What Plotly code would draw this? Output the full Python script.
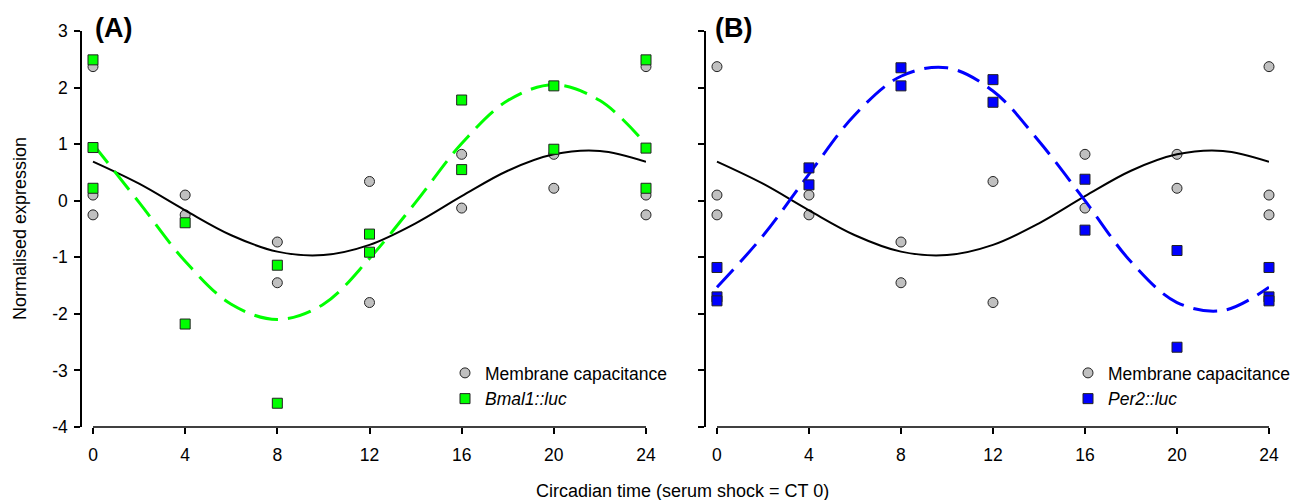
import plotly.graph_objects as go

# ---------------- data ----------------
X_TICKS = [0, 4, 8, 12, 16, 20, 24]
Y_TICKS = [-4, -3, -2, -1, 0, 1, 2, 3]

# Membrane capacitance (same in both panels)
cap_x = [0, 0, 0, 4, 4, 8, 8, 12, 12, 16, 16, 20, 20, 24, 24, 24]
cap_y = [2.37, 0.10, -0.25, 0.10, -0.25, -0.73, -1.45, 0.34, -1.80,
         0.82, -0.13, 0.82, 0.22, 2.37, 0.10, -0.25]

# Bmal1::luc
bmal_x = [0, 0, 0, 4, 4, 8, 8, 12, 12, 16, 16, 20, 20, 24, 24, 24]
bmal_y = [2.49, 0.94, 0.22, -0.39, -2.18, -1.14, -3.58, -0.59, -0.91,
          1.78, 0.55, 2.03, 0.91, 2.49, 0.93, 0.22]

# Per2::luc
per_x = [0, 0, 0, 4, 4, 8, 8, 12, 12, 16, 16, 20, 20, 24, 24, 24]
per_y = [-1.18, -1.70, -1.77, 0.58, 0.28, 2.35, 2.03, 2.14, 1.74,
         0.38, -0.52, -0.88, -2.59, -1.18, -1.70, -1.77]

# fitted curves, every 2 h
fit_x = [0, 2, 4, 6, 8, 10, 12, 14, 16, 18, 20, 22, 24]
cap_fit = [0.69, 0.30, -0.17, -0.61, -0.90, -0.96, -0.78, -0.40, 0.08, 0.53, 0.82, 0.88, 0.69]
bmal_fit = [1.00, -0.03, -1.07, -1.83, -2.10, -1.83, -1.02, -0.03, 1.01, 1.77, 2.05, 1.77, 1.00]
per_fit = [-1.53, -0.62, 0.47, 1.52, 2.20, 2.35, 1.94, 1.05, 0.00, -1.08, -1.80, -1.94, -1.53]

# ---------------- styling ----------------
W, H = 1293, 500
FONT = "Arial, Liberation Sans, sans-serif"
GREY = "#c0c0c0"
GREEN = "#00ff00"
BLUE = "#0000ff"
EDGE = "#222222"
TICK_SIZE = 17.5
TEXT_SIZE = 18
LEG_SIZE = 17.5

fig = go.Figure()

def add_panel(xa, ya, legend, lum_x, lum_y, lum_fit, colour, lum_name):
    fig.add_trace(go.Scatter(x=cap_x, y=cap_y, mode="markers", name="Membrane capacitance",
                             xaxis=xa, yaxis=ya, legend=legend, cliponaxis=False,
                             marker=dict(symbol="circle", size=10, color=GREY,
                                         line=dict(color=EDGE, width=1))))
    fig.add_trace(go.Scatter(x=fit_x, y=cap_fit, mode="lines", showlegend=False,
                             xaxis=xa, yaxis=ya, line=dict(color="black", width=2, shape="spline")))
    fig.add_trace(go.Scatter(x=fit_x, y=lum_fit, mode="lines", showlegend=False,
                             xaxis=xa, yaxis=ya,
                             line=dict(color=colour, width=3, shape="spline", dash="24px,10px")))
    fig.add_trace(go.Scatter(x=lum_x, y=lum_y, mode="markers", name=lum_name,
                             xaxis=xa, yaxis=ya, legend=legend, cliponaxis=False,
                             marker=dict(symbol="square", size=10, color=colour,
                                         line=dict(color=EDGE, width=1))))

add_panel("x", "y", "legend", bmal_x, bmal_y, bmal_fit, GREEN, "<i>Bmal1::luc</i>")
add_panel("x2", "y2", "legend2", per_x, per_y, per_fit, BLUE, "<i>Per2::luc</i>")

ydom = [(H - 427) / H, (H - 31) / H]
xrange_ = [-0.477, 24]

common_x = dict(range=xrange_, tickvals=X_TICKS, ticktext=[str(v) for v in X_TICKS],
                ticks="outside", ticklen=6, tickwidth=1.5, automargin=False,
                tickcolor="black", showline=False, zeroline=False, showgrid=False,
                tickfont=dict(family=FONT, size=TICK_SIZE, color="black"), ticklabelstandoff=6)
common_y = dict(range=[-4, 3], tickvals=Y_TICKS, ticktext=[str(v) for v in Y_TICKS],
                ticks="outside", ticklen=6, tickwidth=1.5, automargin=False,
                tickcolor="black", showline=True, linecolor="black", linewidth=1.5,
                zeroline=False, showgrid=False, domain=ydom,
                tickfont=dict(family=FONT, size=TICK_SIZE, color="black"), ticklabelstandoff=3)

leg_common = dict(xanchor="left", yanchor="top", bgcolor="rgba(0,0,0,0)",
                  font=dict(family=FONT, size=LEG_SIZE, color="black"), borderwidth=0,
                  tracegroupgap=0, itemsizing="trace")

fig.update_layout(
    width=W, height=H, margin=dict(l=0, r=0, t=0, b=0, pad=0, autoexpand=False), autosize=False,
    paper_bgcolor="white", plot_bgcolor="white",
    font=dict(family=FONT, size=TICK_SIZE, color="black"),
    xaxis=dict(domain=[82 / W, 646 / W], anchor="y", **common_x),
    yaxis=dict(anchor="x", **common_y),
    xaxis2=dict(domain=[706 / W, 1269 / W], anchor="y2", **common_x),
    yaxis2=dict(anchor="x2", showticklabels=False, **common_y),
    legend=dict(x=445 / W, y=(H - 355) / H, **leg_common),
    legend2=dict(x=1068 / W, y=(H - 355) / H, **leg_common),
)

# detached x-axis lines spanning first to last tick
for xr, yr in (("x", "y domain"), ("x2", "y2 domain")):
    fig.add_shape(type="line", xref=xr, yref=yr, x0=X_TICKS[0], x1=X_TICKS[-1], y0=0, y1=0,
                  line=dict(color="black", width=1.5))

# panel labels and axis titles
fig.add_annotation(text="<b>(A)</b>", x=93 / W, y=(H - 28) / H, xref="paper", yref="paper",
                   xanchor="left", yanchor="middle", showarrow=False,
                   font=dict(family=FONT, size=27, color="black"))
fig.add_annotation(text="<b>(B)</b>", x=713 / W, y=(H - 28) / H, xref="paper", yref="paper",
                   xanchor="left", yanchor="middle", showarrow=False,
                   font=dict(family=FONT, size=27, color="black"))
fig.add_annotation(text="Normalised expression", x=20 / W, y=(H - 229) / H, xref="paper",
                   yref="paper", xanchor="center", yanchor="middle", textangle=-90,
                   showarrow=False, font=dict(family=FONT, size=TEXT_SIZE, color="black"))
fig.add_annotation(text="Circadian time (serum shock = CT 0)", x=682 / W, y=(H - 491) / H,
                   xref="paper", yref="paper", xanchor="center", yanchor="middle",
                   showarrow=False, font=dict(family=FONT, size=TEXT_SIZE, color="black"))

fig.write_html("out.html")
